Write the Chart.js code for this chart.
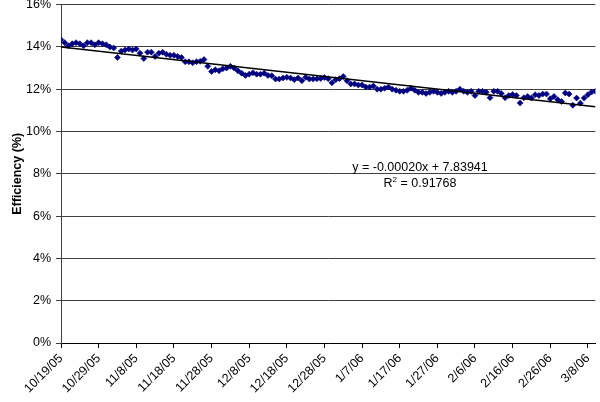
<!DOCTYPE html>
<html>
<head>
<meta charset="utf-8">
<script src="https://cdn.jsdelivr.net/npm/chart.js@4/dist/chart.umd.min.js"></script>
<style>
  html, body { margin: 0; padding: 0; background: #fff; }
  canvas { display: block; }
</style>
</head>
<body>
<canvas id="chart" width="600" height="402"></canvas>
<script>
// Daily efficiency readings (%), one per day starting on the first date below
const firstDay = Date.UTC(2005, 9, 19);
const efficiency = [
  14.34, 14.20, 14.05, 14.15, 14.20, 14.15, 14.05, 14.20, 14.20, 14.10,
  14.20, 14.15, 14.10, 14.00, 13.95, 13.50, 13.80, 13.85, 13.90, 13.85,
  13.90, 13.70, 13.45, 13.75, 13.75, 13.55, 13.70, 13.75, 13.65, 13.60,
  13.60, 13.55, 13.50, 13.30, 13.30, 13.25, 13.30, 13.32, 13.40, 13.08,
  12.84, 12.92, 12.87, 12.97, 13.00, 13.08, 13.00, 12.87, 12.76, 12.65,
  12.71, 12.78, 12.71, 12.71, 12.76, 12.65, 12.64, 12.48, 12.48, 12.53,
  12.56, 12.53, 12.45, 12.53, 12.40, 12.56, 12.48, 12.48, 12.50, 12.51,
  12.55, 12.50, 12.30, 12.45, 12.50, 12.60, 12.40, 12.25, 12.25, 12.20,
  12.20, 12.10, 12.10, 12.15, 12.00, 12.00, 12.05, 12.10, 12.00, 11.95,
  11.90, 11.90, 11.95, 12.05, 11.95, 11.85, 11.85, 11.80, 11.85, 11.90,
  11.85, 11.80, 11.85, 11.90, 11.85, 11.90, 12.00, 11.90, 11.85, 11.90,
  11.70, 11.90, 11.90, 11.85, 11.60, 11.90, 11.90, 11.80, 11.60, 11.70,
  11.75, 11.70, 11.35, 11.60, 11.66, 11.58, 11.74, 11.70, 11.77, 11.77,
  11.55, 11.66, 11.50, 11.42, 11.82, 11.77, 11.24, 11.58, 11.34, 11.58,
  11.74, 11.87, 11.90
];

// Date labels, one every ten days
const xTickLabels = [
  '10/19/05', '10/29/05', '11/8/05', '11/18/05', '11/28/05', '12/8/05',
  '12/18/05', '12/28/05', '1/7/06', '1/17/06', '1/27/06', '2/6/06',
  '2/16/06', '2/26/06', '3/8/06'
];
const yTickLabels = ['0%', '2%', '4%', '6%', '8%', '10%', '12%', '14%', '16%'];

// Linear trend on the spreadsheet date serial (fraction per day)
const trendSlope = -0.00019924;
const trendIntercept = 7.83941;
const trendR2 = 0.91768;

const toSerial = ms => ms / 86400000 + 25569;
const x0 = toSerial(firstDay);
const xMax = x0 + efficiency.length - 1;
const points = efficiency.map((v, i) => ({ x: x0 + i, y: v }));
const trendAt = s => (trendIntercept + trendSlope * s) * 100;
const trendPoints = [{ x: x0, y: trendAt(x0) }, { x: xMax, y: trendAt(xMax) }];

const FONT = "'Liberation Sans', Arial, Helvetica, sans-serif";
const SIZE = 12.5;
Chart.defaults.font.family = FONT;
Chart.defaults.color = '#000';

// Trend equation and R² written inside the plot
const equationLabel = {
  id: 'equationLabel',
  afterDatasetsDraw(chart) {
    const ctx = chart.ctx;
    const cx = 420;
    const big = SIZE + 'px ' + FONT;
    const small = '8px ' + FONT;
    ctx.save();
    ctx.fillStyle = '#000';
    ctx.textBaseline = 'alphabetic';
    ctx.font = big;
    ctx.textAlign = 'center';
    const eq = 'y = ' + trendSlope.toFixed(5) + 'x + ' + trendIntercept.toFixed(5);
    ctx.fillText(eq, cx, 171);

    const rest = ' = ' + trendR2.toFixed(5);
    ctx.textAlign = 'left';
    const wR = ctx.measureText('R').width;
    const wRest = ctx.measureText(rest).width;
    ctx.font = small;
    const wSup = ctx.measureText('2').width;
    let x = cx - (wR + wSup + wRest) / 2;
    const base = 187;
    ctx.font = big;
    ctx.fillText('R', x, base);
    x += wR;
    ctx.font = small;
    ctx.fillText('2', x, base - 5);
    x += wSup;
    ctx.font = big;
    ctx.fillText(rest, x, base);
    ctx.restore();
  }
};

new Chart(document.getElementById('chart'), {
  type: 'scatter',
  data: {
    datasets: [
      {
        label: 'Trend',
        type: 'line',
        data: trendPoints,
        borderColor: '#000',
        borderWidth: 1.6,
        pointRadius: 0,
        fill: false,
        order: 0
      },
      {
        label: 'Efficiency',
        data: points,
        pointStyle: 'rectRot',
        pointRadius: 3,
        backgroundColor: '#000080',
        borderColor: '#000080',
        borderWidth: 0.6,
        showLine: false,
        order: 1
      }
    ]
  },
  options: {
    responsive: false,
    animation: false,
    layout: { padding: { top: 4.5, right: 0, left: 0, bottom: 0 } },
    plugins: {
      legend: { display: false },
      tooltip: { enabled: false }
    },
    scales: {
      x: {
        type: 'linear',
        min: x0,
        max: xMax,
        afterBuildTicks: scale => {
          scale.ticks = xTickLabels.map((_, i) => ({ value: x0 + 10 * i }));
        },
        afterFit: scale => {
          scale.height = 59;
          scale.paddingLeft = 0;
          scale.paddingRight = 0;
        },
        ticks: {
          autoSkip: false,
          minRotation: 45,
          maxRotation: 45,
          padding: 3,
          font: { size: SIZE },
          color: '#000',
          callback: (v, i) => xTickLabels[i]
        },
        grid: {
          drawOnChartArea: false,
          drawTicks: true,
          tickLength: 5,
          color: '#000'
        },
        border: { color: '#000', width: 1 }
      },
      y: {
        min: 0,
        max: 16,
        afterBuildTicks: scale => {
          scale.ticks = yTickLabels.map((_, i) => ({ value: 2 * i }));
        },
        afterFit: scale => {
          scale.width = 61;
          scale.paddingTop = 0;
          scale.paddingBottom = 0;
        },
        ticks: {
          padding: 5,
          font: { size: SIZE },
          color: '#000',
          callback: (v, i) => yTickLabels[i]
        },
        grid: {
          color: '#404040',
          lineWidth: 1,
          tickLength: 5,
          tickColor: '#404040'
        },
        border: { color: '#404040', width: 1 },
        title: {
          display: true,
          text: 'Efficiency (%)',
          font: { size: SIZE, weight: 'bold' },
          color: '#000',
          padding: { top: 10, bottom: 0 }
        }
      }
    }
  },
  plugins: [equationLabel]
});
</script>
</body>
</html>
